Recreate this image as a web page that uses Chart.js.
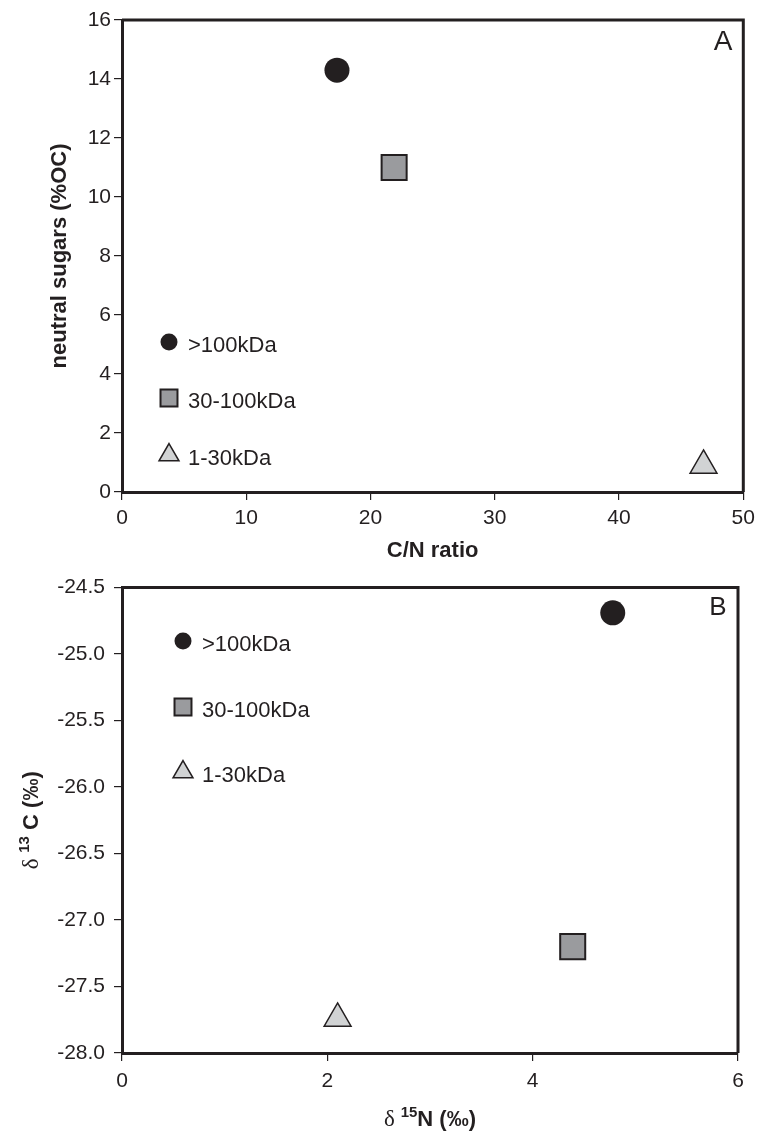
<!DOCTYPE html>
<html>
<head>
<meta charset="utf-8">
<script src="https://cdn.jsdelivr.net/npm/chart.js@4.4.1/dist/chart.umd.min.js"></script>
<style>
  html, body { margin: 0; padding: 0; background: #fff; overflow: hidden; }
  #wrap { position: relative; width: 758px; height: 1132px; overflow: hidden; }
  canvas { position: absolute; left: 0; }
</style>
</head>
<body>
<div id="wrap">
  <!-- a little wider than the page so the auto label padding lands the frame at x=743 -->
  <canvas id="chartA" width="763" height="566" style="top:0"></canvas>
  <canvas id="chartB" width="758" height="566" style="top:566px"></canvas>
</div>
<script>
// size classes (same order in every array)
const sizeClasses = ['>100kDa', '30-100kDa', '1-30kDa'];

// panel A
const cnRatio = [17.3, 21.9, 46.8];
const neutralSugars = [14.3, 11.0, 0.9];

// panel B
const d15N = [4.78, 4.39, 2.10];
const d13C = [-24.69, -27.20, -27.74];

const INK = '#231f20';
const FONT = "'Liberation Sans', Arial, sans-serif";

const markerStyles = [
  { pointStyle: 'circle',   radius: 12.5, legendRadius: 8.5,  fill: INK,       border: INK, bw: 0 },
  { pointStyle: 'rect',     radius: 17.7, legendRadius: 12,   fill: '#9a9b9e', border: INK, bw: 2 },
  { pointStyle: 'triangle', radius: 15.5, legendRadius: 11.5, fill: '#d1d3d4', border: INK, bw: 1.5 },
];

function makeDatasets(xs, ys) {
  return sizeClasses.map((label, i) => ({
    label,
    data: [{ x: xs[i], y: ys[i] }],
    pointStyle: markerStyles[i].pointStyle,
    pointRadius: markerStyles[i].radius,
    pointHoverRadius: markerStyles[i].radius,
    backgroundColor: markerStyles[i].fill,
    borderColor: markerStyles[i].border,
    borderWidth: markerStyles[i].bw,
    clip: false,
  }));
}

// frame on top/right, in-plot legend, panel letter, axis titles
const decorations = {
  id: 'decorations',
  afterDraw(chart, args, opts) {
    const { ctx, chartArea: a } = chart;
    ctx.save();
    ctx.strokeStyle = INK;
    ctx.lineWidth = 3;
    ctx.beginPath();
    ctx.moveTo(a.left, a.top);
    ctx.lineTo(a.right, a.top);
    ctx.lineTo(a.right, a.bottom);
    ctx.stroke();

    // legend
    opts.legend.ys.forEach((ly, i) => {
      const m = markerStyles[i];
      ctx.fillStyle = m.fill;
      ctx.strokeStyle = m.border;
      ctx.lineWidth = m.bw;
      Chart.helpers.drawPoint(ctx, { pointStyle: m.pointStyle, radius: m.legendRadius, borderWidth: m.bw }, opts.legend.x, ly);
      ctx.fillStyle = INK;
      ctx.font = `22px ${FONT}`;
      ctx.textBaseline = 'middle';
      ctx.textAlign = 'left';
      ctx.fillText(sizeClasses[i], opts.legend.x + 19, ly + 4);
    });

    // panel letter
    ctx.fillStyle = INK;
    ctx.font = `${opts.letter.size}px ${FONT}`;
    ctx.textAlign = 'center';
    ctx.textBaseline = 'middle';
    ctx.fillText(opts.letter.text, opts.letter.x, opts.letter.y);

    // axis titles (mixed fonts for delta notation)
    drawRich(ctx, opts.xTitle.parts, (a.left + a.right) / 2, opts.xTitle.y, 0);
    drawRich(ctx, opts.yTitle.parts, opts.yTitle.x, (a.top + a.bottom) / 2, -Math.PI / 2);
    ctx.restore();
  }
};

function drawRich(ctx, parts, cx, cy, rot) {
  ctx.save();
  ctx.translate(cx, cy);
  ctx.rotate(rot);
  ctx.textBaseline = 'alphabetic';
  ctx.textAlign = 'left';
  let total = 0;
  parts.forEach(p => { ctx.font = p.font; total += ctx.measureText(p.text).width; });
  let x = -total / 2;
  parts.forEach(p => {
    ctx.font = p.font;
    ctx.fillStyle = INK;
    ctx.fillText(p.text, x, 8 + (p.dy || 0));
    x += ctx.measureText(p.text).width;
  });
  ctx.restore();
}

function axis(min, max, step, fit, pad, decimals) {
  return {
    type: 'linear',
    min, max,
    afterFit: fit,
    border: { display: true, color: INK, width: 3 },
    grid: { display: true, drawOnChartArea: false, drawTicks: true, tickLength: 8, color: INK, lineWidth: 1.2 },
    ticks: {
      stepSize: step,
      color: INK,
      font: { family: FONT, size: 21 },
      padding: pad,
      callback: v => decimals ? v.toFixed(decimals) : String(v),
    },
    title: { display: false },
  };
}

const boldT = `bold 22px ${FONT}`;
const deltaF = "23px 'Liberation Serif', 'DejaVu Serif', serif";
const supF = `bold 15px ${FONT}`;

new Chart(document.getElementById('chartA'), {
  type: 'scatter',
  data: { datasets: makeDatasets(cnRatio, neutralSugars) },
  options: {
    responsive: false,
    animation: false,
    layout: { padding: { top: 20, right: 15, left: 0, bottom: 0 } },
    plugins: {
      legend: { display: false },
      tooltip: { enabled: false },
      decorations: {
        legend: { x: 169, ys: [342, 398, 455] },
        letter: { text: 'A', x: 723, y: 42, size: 28 },
        xTitle: { y: 549, parts: [{ text: 'C/N ratio', font: boldT }] },
        yTitle: { x: 58, parts: [{ text: 'neutral sugars (%OC)', font: boldT }] },
      },
    },
    scales: {
      x: axis(0, 50, 10, s => { s.height = 74; }, 6),
      y: axis(0, 16, 2, s => { s.width = 122; }, 3),
    },
  },
  plugins: [decorations],
});

new Chart(document.getElementById('chartB'), {
  type: 'scatter',
  data: { datasets: makeDatasets(d15N, d13C) },
  options: {
    responsive: false,
    animation: false,
    layout: { padding: { top: 21, right: 20, left: 0, bottom: 0 } },
    plugins: {
      legend: { display: false },
      tooltip: { enabled: false },
      decorations: {
        legend: { x: 183, ys: [75, 141, 206] },
        letter: { text: 'B', x: 718, y: 42, size: 26 },
        xTitle: { y: 552, parts: [
          { text: 'δ ', font: deltaF },
          { text: '15', font: supF, dy: -9 },
          { text: 'N (‰)', font: boldT },
        ] },
        yTitle: { x: 30, parts: [
          { text: 'δ ', font: deltaF },
          { text: '13', font: supF, dy: -9 },
          { text: ' C (‰)', font: boldT },
        ] },
      },
    },
    scales: {
      x: axis(0, 6, 2, s => { s.height = 79; }, 8),
      y: axis(-28, -24.5, 0.5, s => { s.width = 122; }, 9, 1),
    },
  },
  plugins: [decorations],
});
</script>
</body>
</html>
